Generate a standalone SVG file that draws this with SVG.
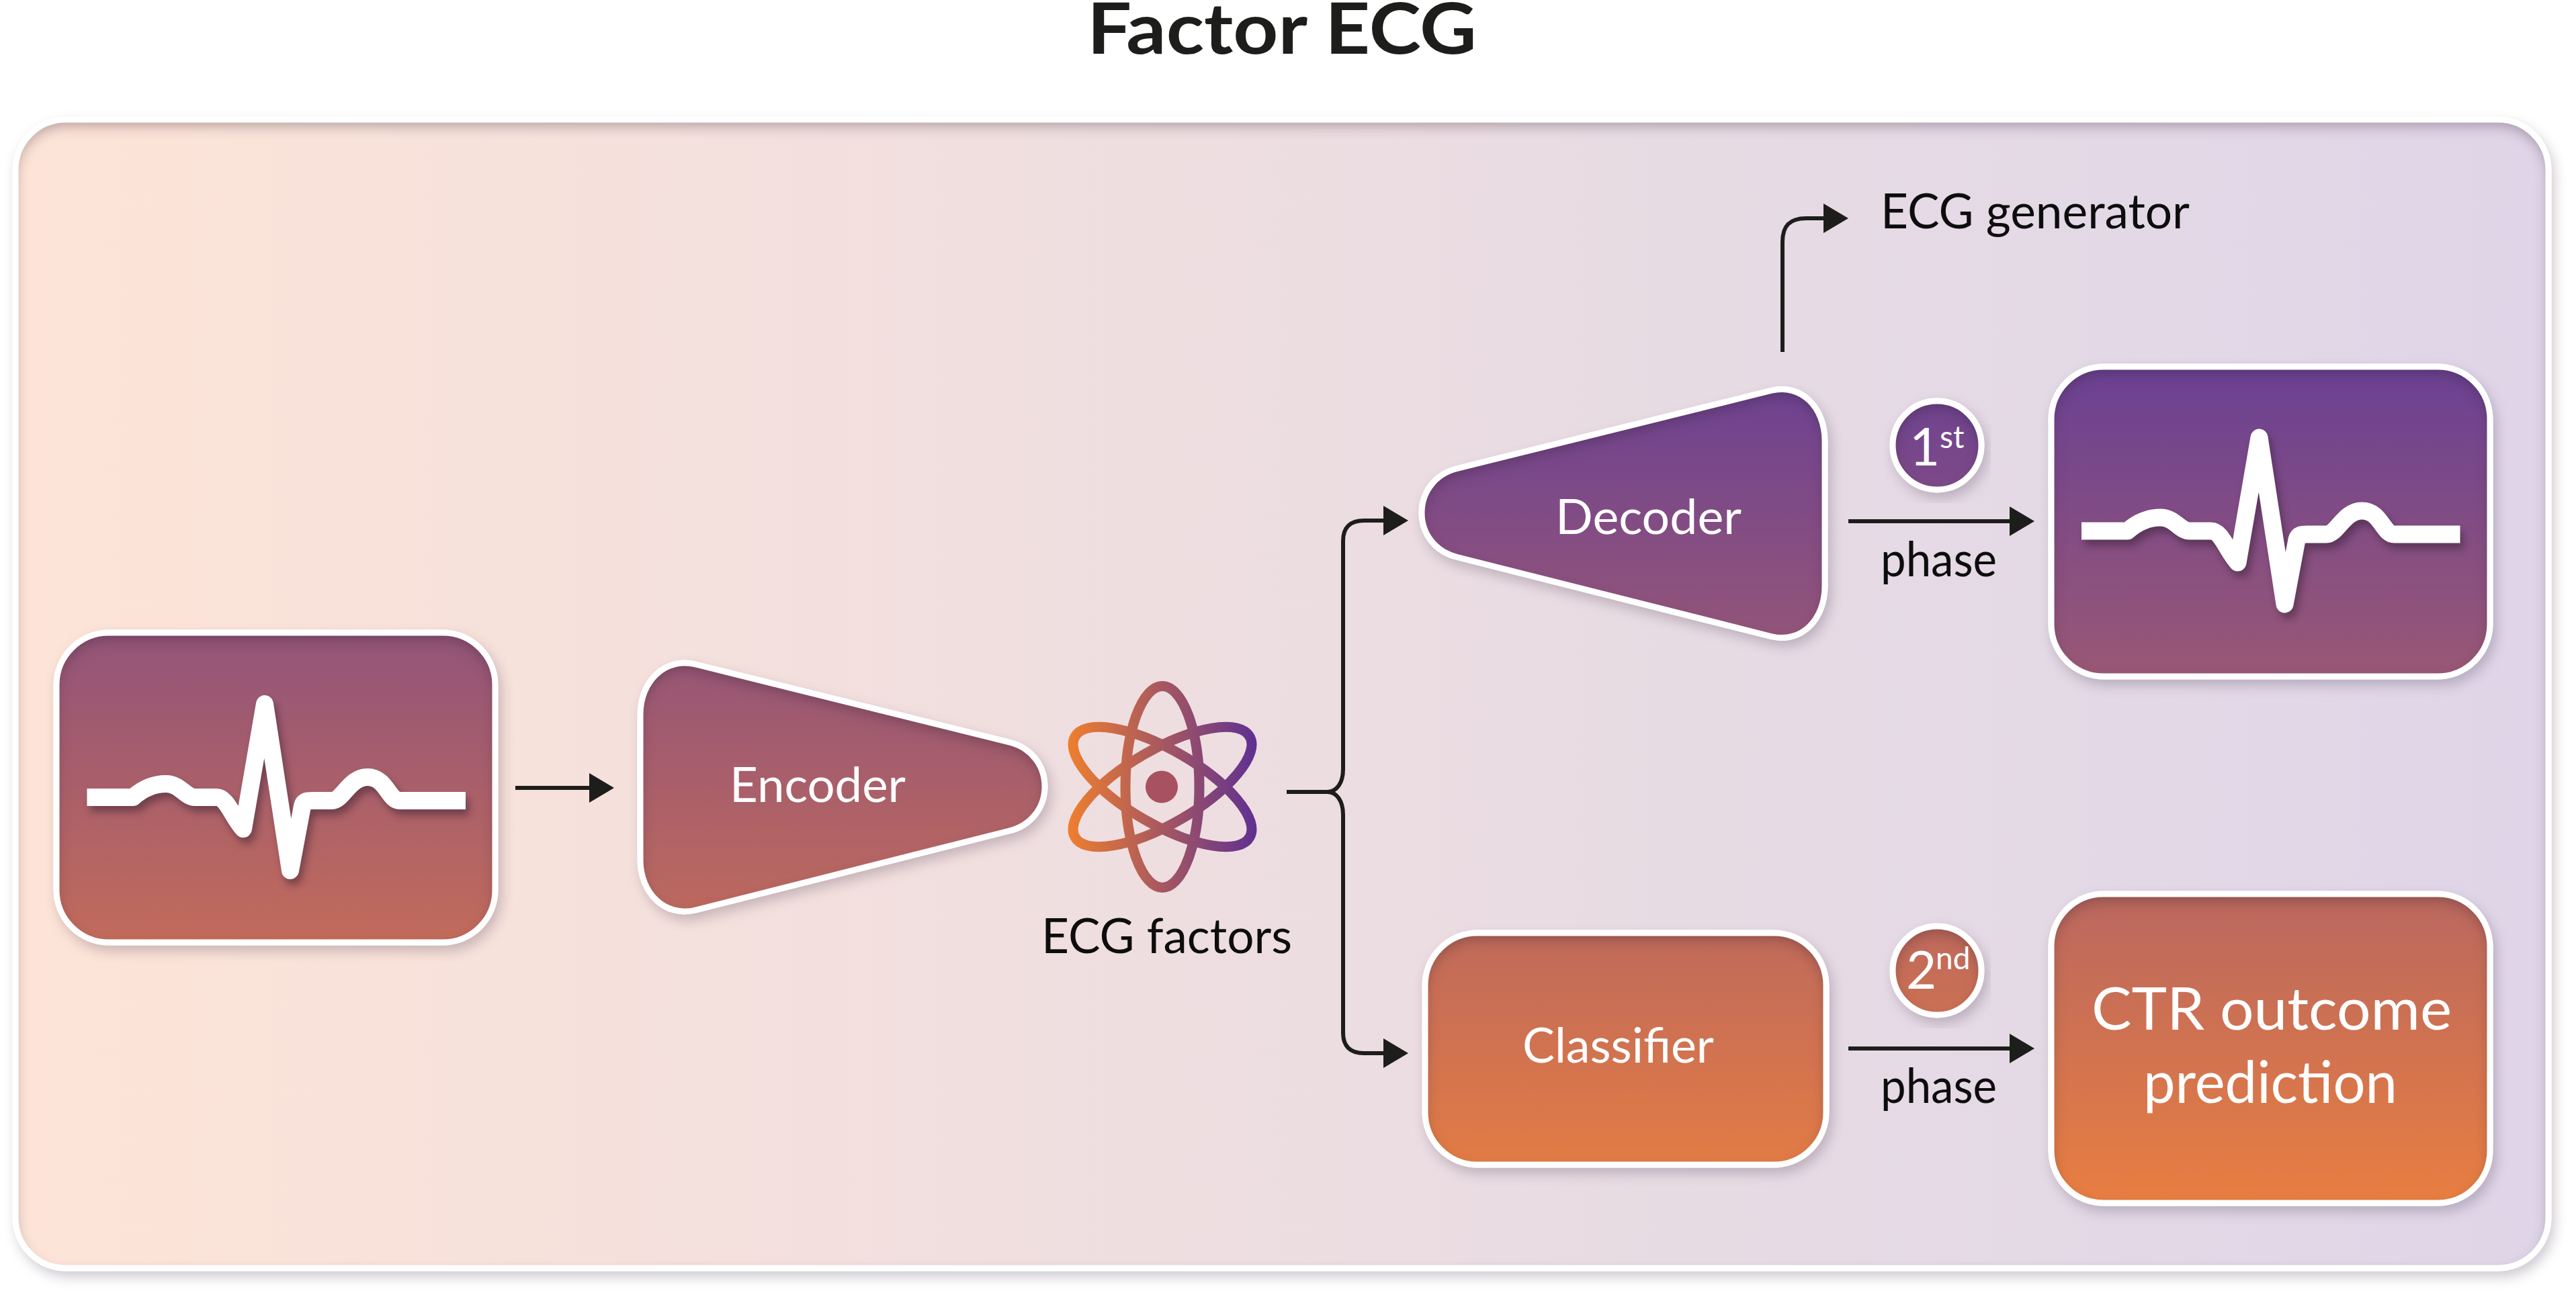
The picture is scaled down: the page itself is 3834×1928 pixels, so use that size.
<svg xmlns="http://www.w3.org/2000/svg" xmlns:xlink="http://www.w3.org/1999/xlink" width="3834" height="1928" viewBox="0 0 3834 1928">
<style>
text{font-family:"Lato","Liberation Sans",sans-serif}
.w{fill:#fff;font-size:72px}
.k{fill:#0d0d0d;font-size:72px}
.edge{stroke:#fff;stroke-width:9;fill:#fff;filter:url(#drop)}
.face{fill:url(#nodeGrad);filter:url(#inset)}
.rim{fill:none;stroke:#fff;stroke-width:9}
.conn{fill:none;stroke:#1d1d1b;stroke-width:6}
.ecg{fill:none;stroke:#fff;stroke-width:26;stroke-linejoin:round;filter:url(#ecgShadow)}
.orb{fill:none;stroke:url(#atomGrad);stroke-width:15}
</style>
<defs>
<linearGradient id="panelGrad" gradientUnits="userSpaceOnUse" x1="27" y1="0" x2="3789" y2="0">
<stop offset="0" stop-color="#fde4d7"/><stop offset=".37" stop-color="#f1dfdf"/><stop offset=".7" stop-color="#e6dbe4"/><stop offset="1" stop-color="#dfd5e8"/>
</linearGradient>
<linearGradient id="nodeGrad" gradientUnits="userSpaceOnUse" x1="0" y1="550" x2="0" y2="1790">
<stop offset="0" stop-color="#6b4193"/><stop offset="1" stop-color="#e87e41"/>
</linearGradient>
<linearGradient id="atomGrad" gradientUnits="userSpaceOnUse" x1="1590" y1="0" x2="1870" y2="0">
<stop offset="0" stop-color="#ee7f2f"/><stop offset="1" stop-color="#5f3091"/>
</linearGradient>
<filter id="drop" x="-10%" y="-10%" width="120%" height="125%" color-interpolation-filters="sRGB">
<feDropShadow dx="5" dy="9" stdDeviation="9" flood-color="#3b2b44" flood-opacity=".24"/>
</filter>
<filter id="inset" x="-20%" y="-20%" width="140%" height="140%" color-interpolation-filters="sRGB">
<feComponentTransfer in="SourceAlpha" result="inv"><feFuncA type="table" tableValues="1 0"/></feComponentTransfer>
<feGaussianBlur in="inv" stdDeviation="10" result="b"/>
<feOffset in="b" dy="9" result="o"/>
<feFlood flood-color="#2c1a2a" flood-opacity=".34"/>
<feComposite in2="o" operator="in"/>
<feComposite in2="SourceAlpha" operator="in" result="s"/>
<feMerge><feMergeNode in="SourceGraphic"/><feMergeNode in="s"/></feMerge>
</filter>
<filter id="ecgShadow" x="-5%" y="-10%" width="110%" height="125%" color-interpolation-filters="sRGB">
<feDropShadow dx="5" dy="9" stdDeviation="6" flood-color="#2c1a2a" flood-opacity=".45"/>
</filter>
<marker id="head" markerUnits="userSpaceOnUse" markerWidth="38" markerHeight="44" refX="0" refY="22" orient="auto">
<path d="M0,0 L37,22 L0,44 Z" fill="#1d1d1b"/>
</marker>
<path id="ecgLine" d="M129.5,1187 H198 C215,1172 232,1167 247,1167 C268,1167 276,1187 290,1187 H322 C338,1187 345,1215 362,1234 L394,1048 L432,1296 L450,1200 C452,1192 458,1192 465,1192 H494 C510,1192 520,1157 547,1157 C575,1157 578,1192 595,1192 H693"/>
<rect id="shapeInput" x="84" y="942" width="653" height="461" rx="78" ry="78"/>
<rect id="shapeOutput" x="3053" y="546" width="653" height="461" rx="78" ry="78"/>
<rect id="shapeCtr" x="3053" y="1331" width="653" height="460" rx="78" ry="78"/>
<rect id="shapeClassifier" x="2121" y="1389" width="597" height="345" rx="78" ry="78"/>
<path id="shapeEncoder" d="M1035,989 L1502,1105 C1535,1113 1555,1140 1555,1171 C1555,1202 1535,1229 1502,1237 L1035,1355 C990,1366 953,1330 953,1280 V1064 C953,1014 990,978 1035,989Z"/>
<path id="shapeDecoder" d="M2636,581.500 L2169,697.500 C2136,705.500 2116,732.500 2116,763.500 C2116,794.500 2136,821.500 2169,829.500 L2636,947.500 C2681,958.500 2716,922.500 2716,872.500 V656.500 C2716,606.500 2681,570.500 2636,581.500Z"/>
<circle id="shapeFirst" cx="2883" cy="663" r="66"/>
<circle id="shapeSecond" cx="2883" cy="1445" r="66"/>
</defs>

<rect width="3834" height="1928" fill="#fff"/>
<text id="title" x="1618" y="80" font-size="106" font-weight="700" fill="#1d1d1b" textLength="580" lengthAdjust="spacingAndGlyphs">Factor ECG</text>

<g id="panel">
<rect x="23" y="178" width="3770" height="1710" rx="75" ry="75" class="edge"/>
<rect x="23" y="178" width="3770" height="1710" rx="75" ry="75" fill="url(#panelGrad)" filter="url(#inset)"/>
<rect x="23" y="178" width="3770" height="1710" rx="75" ry="75" class="rim"/>
</g>

<g id="connectors">
<path class="conn" d="M767,1173 H877" marker-end="url(#head)"/>
<path class="conn" d="M1915,1179 H1975 C1990,1179 1999,1165 1999,1145 V805 C1999,785 2010,775 2030,775 H2059" marker-end="url(#head)"/>
<path class="conn" d="M1975,1179 C1990,1179 1999,1193 1999,1213 V1538 C1999,1558 2010,1568 2030,1568 H2059" marker-end="url(#head)"/>
<path class="conn" d="M2653,524 V360 C2653,336 2664,325 2688,325 H2714" marker-end="url(#head)"/>
<path class="conn" d="M2751,776 H2991" marker-end="url(#head)"/>
<path class="conn" d="M2751,1561 H2991" marker-end="url(#head)"/>
</g>

<g id="input-signal">
<use href="#shapeInput" class="edge"/><use href="#shapeInput" class="face"/><use href="#shapeInput" class="rim"/>
<use href="#ecgLine" class="ecg"/>
</g>

<g id="encoder">
<use href="#shapeEncoder" class="edge"/><use href="#shapeEncoder" class="face"/><use href="#shapeEncoder" class="rim"/>
<text class="w" x="1086" y="1194" textLength="262" lengthAdjust="spacingAndGlyphs">Encoder</text>
</g>

<g id="ecg-factors">
<path class="orb" d="M1730,1021.500 A55,150 0 1 1 1730,1321.500 A55,150 0 1 1 1730,1021.500Z"/>
<path class="orb" d="M1859.900,1096.500 A55,150 60 1 1 1600.100,1246.500 A55,150 60 1 1 1859.900,1096.500Z"/>
<path class="orb" d="M1600.100,1096.500 A55,150 -60 1 1 1859.900,1246.500 A55,150 -60 1 1 1600.100,1096.500Z"/>
<circle cx="1729" cy="1171.500" r="24" fill="#a85160"/>
<text class="k" x="1550" y="1419" textLength="373" lengthAdjust="spacingAndGlyphs">ECG factors</text>
</g>

<g id="decoder">
<use href="#shapeDecoder" class="edge"/><use href="#shapeDecoder" class="face"/><use href="#shapeDecoder" class="rim"/>
<text class="w" x="2315" y="795" textLength="277" lengthAdjust="spacingAndGlyphs">Decoder</text>
</g>

<g id="classifier">
<use href="#shapeClassifier" class="edge"/><use href="#shapeClassifier" class="face"/><use href="#shapeClassifier" class="rim"/>
<text class="w" x="2266" y="1582" textLength="285" lengthAdjust="spacingAndGlyphs">Classifier</text>
</g>

<g id="generator-label">
<text class="k" x="2799" y="340" textLength="460" lengthAdjust="spacingAndGlyphs">ECG generator</text>
</g>

<g id="first-phase">
<use href="#shapeFirst" class="edge"/><use href="#shapeFirst" class="face"/><use href="#shapeFirst" class="rim"/>
<text fill="#fff" font-size="78"><tspan x="2842" y="693">1</tspan><tspan x="2887" y="667" font-size="46">st</tspan></text>
<text class="k" x="2799" y="858" textLength="173" lengthAdjust="spacingAndGlyphs">phase</text>
</g>

<g id="second-phase">
<use href="#shapeSecond" class="edge"/><use href="#shapeSecond" class="face"/><use href="#shapeSecond" class="rim"/>
<text fill="#fff" font-size="78"><tspan x="2837" y="1472">2</tspan><tspan x="2881" y="1443" font-size="46">nd</tspan></text>
<text class="k" x="2799" y="1642" textLength="173" lengthAdjust="spacingAndGlyphs">phase</text>
</g>

<g id="output-signal">
<use href="#shapeOutput" class="edge"/><use href="#shapeOutput" class="face"/><use href="#shapeOutput" class="rim"/>
<use href="#ecgLine" class="ecg" transform="translate(2968.5,-396.5)"/>
</g>

<g id="ctr-outcome">
<use href="#shapeCtr" class="edge"/><use href="#shapeCtr" class="face"/><use href="#shapeCtr" class="rim"/>
<text class="w" x="3113" y="1533" style="font-size:88px" textLength="536" lengthAdjust="spacingAndGlyphs">CTR outcome</text>
<text class="w" x="3190" y="1642" style="font-size:88px" textLength="378" lengthAdjust="spacingAndGlyphs">prediction</text>
</g>
</svg>
